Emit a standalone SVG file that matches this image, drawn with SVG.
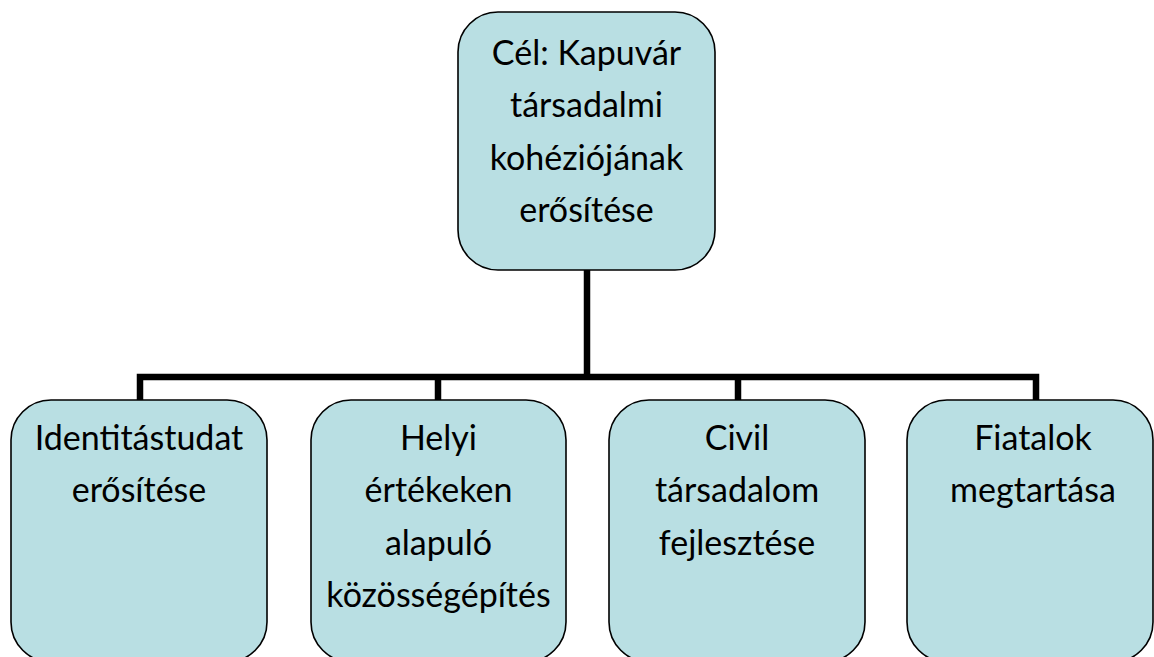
<svg xmlns="http://www.w3.org/2000/svg" width="1154" height="657" viewBox="0 0 1154 657">
<style>
.box{fill:#B9DFE3;stroke:#000;stroke-width:1.6}
.lbl{font-family:Lato,"Open Sans","Liberation Sans",sans-serif;font-size:34px;fill:#000;text-anchor:middle}
.conn{fill:none;stroke:#000;stroke-width:6.5;stroke-linecap:butt;stroke-linejoin:miter}
</style>
<rect width="1154" height="657" fill="#fff"/>
<g id="connectors">
<path class="conn" d="M587,270 V377"/>
<path class="conn" d="M140,400 V377 H1036 V400"/>
<path class="conn" d="M438,377 V400"/>
<path class="conn" d="M738,377 V400"/>
</g>
<g id="node-top">
<rect class="box" x="458" y="12" width="257" height="258" rx="40"/>
<text class="lbl" x="586.5" y="65">Cél: Kapuvár</text>
<text class="lbl" x="586.5" y="117">társadalmi</text>
<text class="lbl" x="586.5" y="170">kohéziójának</text>
<text class="lbl" x="586.5" y="222">erősítése</text>
</g>
<g id="node-1">
<rect class="box" x="11" y="400" width="256" height="262" rx="40"/>
<text class="lbl" x="139" y="450">Identitástudat</text>
<text class="lbl" x="139" y="502">erősítése</text>
</g>
<g id="node-2">
<rect class="box" x="311" y="400" width="255" height="262" rx="40"/>
<text class="lbl" x="438.5" y="450">Helyi</text>
<text class="lbl" x="438.5" y="502">értékeken</text>
<text class="lbl" x="438.5" y="555">alapuló</text>
<text class="lbl" x="438.5" y="607">közösségépítés</text>
</g>
<g id="node-3">
<rect class="box" x="609" y="400" width="256" height="262" rx="40"/>
<text class="lbl" x="737" y="450">Civil</text>
<text class="lbl" x="737" y="502">társadalom</text>
<text class="lbl" x="737" y="555">fejlesztése</text>
</g>
<g id="node-4">
<rect class="box" x="907" y="400" width="246" height="262" rx="40"/>
<text class="lbl" x="1033" y="450">Fiatalok</text>
<text class="lbl" x="1033" y="502">megtartása</text>
</g>
</svg>
